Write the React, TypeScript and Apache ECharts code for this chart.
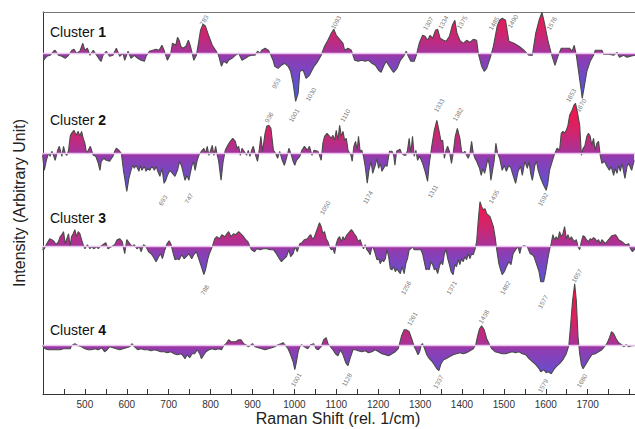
import React, { useEffect, useRef } from 'react';
import * as echarts from 'echarts';

const FONT = '"Liberation Sans", Arial, Helvetica, sans-serif';

// ---------- data (intensity in arbitrary units, relative to each cluster baseline) ----------
const CLUSTER_NAMES = ['1', '2', '3', '4'];
const OFFSETS = [340.7, 240.7, 147.3, 48.3];

const WN1 = [401,409,417,425,429,437,445,453,461,469,474,480,488,495,500,506,512,520,528,536,539,543,551,559,567,575,583,591,595,603,610,618,626,634,642,646,654,662,670,677,684,689,697,705,709,717,721,725,729,734,741,747,752,760,766,771,776,782,788,796,804,812,819,826,831,839,843,851,859,867,875,883,890,898,906,912,918,922,930,938,944,950,953,961,969,977,985,991,997,1003,1009,1013,1021,1028,1036,1047,1056,1064,1072,1080,1088,1094,1100,1108,1116,1120,1128,1136,1144,1152,1161,1169,1177,1185,1193,1201,1207,1213,1219,1225,1233,1237,1245,1253,1262,1267,1272,1278,1286,1291,1298,1306,1312,1318,1324,1330,1337,1342,1348,1356,1362,1370,1377,1383,1388,1395,1403,1411,1419,1427,1435,1439,1447,1453,1459,1467,1475,1484,1490,1496,1504,1512,1524,1536,1548,1560,1568,1576,1584,1591,1597,1605,1613,1619,1622,1629,1637,1649,1657,1663,1668,1673,1679,1684,1687,1692,1698,1706,1714,1718,1726,1734,1738,1750,1762,1770,1776,1786,1794,1802,1813];
const IN1 = [-7,-3,-2,2,3,-2,-3,-5,-2,3,4,0,2,10,3,5,-2,3,-2,-7,-8,-2,2,-3,-2,5,-3,0,-7,2,-5,-2,-5,-7,-8,-3,2,3,4,3,8,3,-7,0,10,8,16,13,7,5,7,13,7,-7,-2,10,23,29,27,17,8,3,-2,-13,-8,-10,-7,-5,-2,0,-7,-5,-3,-2,-2,2,0,3,5,3,-2,-8,-13,-15,-12,-10,-13,-18,-30,-48,-40,-18,-17,-25,-22,-13,-8,-2,7,13,20,24,18,14,10,3,5,3,-7,-8,-7,-8,-7,-10,-12,-17,-19,-13,-8,-12,-17,-19,-15,-7,-2,2,-3,-8,-8,-2,10,18,17,13,18,15,23,24,15,13,12,17,28,33,20,13,10,13,11,14,13,0,-13,-18,-15,-5,7,27,33,35,33,12,10,7,3,-2,-2,20,33,41,30,13,0,-8,-12,-3,5,5,5,2,8,-2,-20,-35,-45,-33,-18,-8,-2,3,3,3,-1,-1,-2,1,-4,-2,-4,-3,-2];

const WN2 = [399,403,408,413,417,421,425,429,435,439,445,449,453,457,461,465,468,474,479,484,488,492,496,500,504,508,513,520,526,532,536,539,545,551,559,567,571,575,581,587,592,597,600,605,610,614,618,622,629,632,636,642,646,650,655,660,666,670,674,679,684,689,693,697,703,709,715,721,726,731,735,739,744,748,755,759,763,768,772,778,784,788,792,796,800,804,808,812,816,819,825,830,835,841,847,853,859,863,867,871,875,883,886,890,894,898,902,906,912,916,920,924,930,934,939,944,950,955,960,965,971,976,981,987,993,997,1001,1005,1013,1018,1024,1031,1036,1042,1047,1056,1060,1064,1068,1072,1078,1084,1088,1092,1096,1100,1104,1108,1112,1116,1120,1124,1128,1135,1138,1142,1146,1150,1153,1157,1161,1165,1169,1174,1178,1183,1187,1193,1197,1201,1205,1209,1213,1217,1221,1227,1233,1237,1240,1244,1248,1252,1256,1262,1266,1270,1274,1278,1282,1286,1290,1294,1299,1306,1312,1318,1322,1329,1334,1340,1345,1350,1354,1358,1362,1366,1370,1375,1379,1384,1389,1395,1399,1403,1407,1411,1415,1419,1423,1427,1431,1435,1442,1446,1450,1454,1458,1462,1466,1469,1473,1477,1481,1485,1490,1496,1501,1506,1512,1517,1522,1528,1534,1540,1544,1550,1556,1560,1564,1568,1574,1578,1582,1588,1595,1601,1605,1609,1614,1619,1622,1627,1633,1637,1641,1645,1649,1653,1657,1663,1667,1671,1676,1681,1685,1689,1693,1698,1702,1706,1710,1714,1718,1722,1726,1730,1734,1740,1746,1752,1756,1762,1766,1770,1774,1778,1782,1789,1794,1798,1805,1811];
const IN2 = [-2,-17,-7,0,-3,2,-2,-7,3,7,-3,7,0,-2,3,17,20,23,18,22,17,22,15,10,0,3,7,-2,-3,-10,-17,-8,-5,-7,-8,-3,2,5,3,0,-17,-30,-38,-25,-17,-12,-15,-12,-18,-12,-17,-13,-18,-15,-17,-13,-17,-13,-18,-23,-15,-30,-27,-22,-17,-20,-23,-17,-8,-13,-20,-27,-22,-27,-13,-8,-17,-7,-2,2,5,0,7,-2,3,8,-2,7,-2,-7,-27,-8,3,8,12,15,12,5,7,-2,5,0,-2,3,-3,3,7,0,-8,3,17,2,20,27,28,25,3,0,-5,2,-7,-12,-5,5,-2,-8,-12,-7,-3,3,7,3,7,-2,3,2,-2,-7,10,17,20,17,15,18,13,23,13,28,17,22,13,15,3,-2,-8,7,12,3,17,2,3,-3,-13,-30,-17,-8,-20,-12,-5,-15,-10,-18,-15,-12,-13,2,2,-2,-12,2,3,4,0,-2,-2,3,15,0,17,-3,3,-7,-3,-10,-18,-28,-10,10,23,33,23,12,13,-5,3,7,2,-10,0,17,25,15,2,0,2,-2,-5,0,12,0,-5,-8,-15,-22,-15,-20,-13,-5,-13,-27,-17,-7,10,0,-5,-17,-12,-18,-12,-15,-22,-30,-18,-13,-22,-8,-15,-8,-20,-27,-12,-8,-17,-25,-32,-37,-30,-17,-10,-3,0,5,3,20,22,20,23,28,38,43,48,50,40,28,-2,5,7,17,20,17,8,15,3,10,12,-2,-10,-8,-13,-17,-13,-22,-15,-20,-12,-18,-10,-25,-13,-10,-17,-7];

const WN3 = [399,403,409,416,421,427,431,437,441,445,449,453,457,461,465,468,472,476,480,484,488,492,496,500,506,512,516,521,528,532,536,543,550,555,563,571,577,583,589,595,600,607,613,618,624,630,634,640,646,652,658,663,670,676,681,685,691,696,701,705,711,715,721,725,731,737,742,748,755,760,766,770,774,778,784,788,793,797,804,810,815,821,827,834,839,843,849,855,860,867,872,879,884,889,894,898,905,910,918,926,934,942,950,957,964,969,976,981,987,991,997,1002,1007,1013,1018,1024,1031,1036,1039,1043,1047,1054,1060,1064,1068,1072,1076,1080,1084,1088,1092,1096,1100,1104,1108,1112,1116,1120,1124,1128,1132,1136,1140,1144,1148,1152,1157,1161,1165,1169,1173,1177,1181,1185,1189,1193,1197,1201,1205,1209,1213,1217,1221,1225,1229,1233,1237,1241,1245,1249,1253,1257,1262,1266,1270,1274,1278,1282,1286,1294,1302,1306,1310,1314,1318,1322,1326,1330,1334,1338,1342,1346,1350,1354,1358,1362,1366,1370,1374,1379,1383,1387,1391,1395,1399,1403,1407,1411,1415,1419,1423,1427,1431,1435,1439,1443,1447,1451,1455,1459,1467,1475,1479,1483,1488,1492,1496,1501,1506,1512,1517,1522,1528,1534,1538,1542,1548,1556,1563,1568,1572,1576,1580,1584,1588,1595,1599,1605,1609,1613,1617,1621,1625,1629,1633,1637,1641,1645,1649,1653,1657,1661,1665,1669,1673,1677,1681,1685,1689,1693,1697,1702,1706,1710,1714,1718,1722,1726,1730,1734,1738,1742,1750,1758,1766,1770,1774,1782,1790,1798,1802,1807,1813];
const IN3 = [-3,-2,3,8,7,5,2,5,10,12,15,3,8,13,0,10,13,17,10,15,13,7,2,-2,2,-2,0,-2,0,-2,0,2,4,-2,0,2,7,8,5,-7,7,3,0,2,-2,0,-5,2,0,-5,-7,-10,-15,-10,-7,-12,-3,3,6,3,-7,-13,-12,-13,-8,-12,-10,-7,-12,-8,-5,-10,-15,-20,-28,-23,-13,-7,0,8,10,8,12,10,13,15,10,13,12,15,13,10,7,5,0,-3,-5,-2,-3,-2,-2,-3,-3,-7,-12,-15,-12,-10,-3,-10,-7,0,-5,3,4,7,8,11,12,8,9,17,24,20,13,15,8,5,0,-3,-2,-7,3,8,10,5,10,7,11,13,15,17,15,12,10,5,7,2,-2,2,-3,-5,-8,0,-2,-7,-13,-12,-17,-13,-15,-12,-3,-10,-22,-23,-20,-25,-22,-25,-27,-20,-27,-17,-12,-3,-2,0,-3,-3,-3,-7,-15,-23,-22,-23,-15,-18,-23,-22,-27,-20,-15,-18,-7,-3,-12,-18,-25,-28,-18,-20,-13,-18,-12,-15,-10,-13,-7,-12,-7,-8,-3,5,27,45,40,37,38,33,30,20,10,-3,-17,-23,-28,-25,-20,-15,-18,-7,-3,0,-7,0,1,0,-7,-8,-10,-15,-20,-25,-35,-35,-27,-12,-3,3,12,7,10,7,15,10,13,20,8,12,7,10,7,5,7,0,-3,5,11,10,7,5,8,7,9,8,5,7,3,7,5,3,7,11,12,10,7,5,2,3,-2,-5,-2];

const WN4 = [399,405,413,425,433,441,449,457,465,468,476,484,492,500,508,516,524,532,540,547,553,559,567,575,583,591,599,607,613,618,626,634,642,650,658,666,674,681,689,697,705,713,721,729,734,739,744,750,756,762,768,774,778,784,789,796,804,811,819,826,831,837,843,849,855,860,867,872,879,884,890,897,900,906,914,922,930,938,946,953,961,968,973,979,985,991,997,1001,1005,1009,1013,1017,1024,1032,1039,1046,1052,1057,1064,1070,1076,1080,1086,1092,1098,1104,1110,1116,1120,1124,1128,1132,1136,1140,1146,1152,1161,1169,1177,1185,1193,1201,1209,1217,1225,1233,1241,1248,1251,1256,1262,1267,1274,1280,1286,1290,1295,1299,1303,1306,1311,1316,1322,1329,1334,1340,1345,1350,1356,1362,1370,1379,1387,1395,1403,1411,1419,1427,1433,1437,1442,1447,1453,1459,1466,1471,1479,1488,1496,1504,1512,1520,1528,1536,1544,1552,1560,1568,1576,1584,1588,1595,1601,1606,1613,1619,1625,1633,1641,1649,1655,1659,1664,1669,1673,1677,1681,1685,1689,1695,1702,1710,1718,1726,1734,1740,1746,1752,1757,1762,1768,1774,1781,1786,1792,1798,1805,1811];
const IN4 = [0,-3,-4,-4,-4,-4,-3,-3,-3,0,2,0,-1,-3,-4,-4,-3,-4,-2,-6,-4,-1,-2,-3,-4,-3,-2,-1,2,-1,-4,-3,-4,-4,-5,-4,-5,-6,-6,-7,-6,-8,-9,-8,-10,-13,-9,-12,-8,-8,-4,-8,-13,-9,-6,-4,-3,-4,-3,-4,0,2,6,4,4,4,6,6,2,1,-1,1,2,-1,-2,-3,-4,-3,-2,-1,1,2,3,0,-3,-9,-16,-24,-16,-6,-1,1,-1,-3,1,2,-3,-4,-1,6,8,2,-1,-4,-8,-10,-4,-9,-14,-18,-20,-14,-9,-4,-4,-5,-6,-5,-7,-6,-4,-6,-8,-9,-10,-8,-6,-3,2,10,16,16,14,7,-1,-4,-9,-6,1,2,-3,-9,-13,-16,-19,-23,-25,-18,-14,-13,-11,-9,-8,-7,-8,-7,-5,-3,1,9,17,20,16,7,1,-3,-6,-7,-8,-8,-7,-6,-7,-6,-8,-9,-13,-16,-19,-23,-26,-24,-27,-26,-28,-24,-21,-18,-14,-8,0,19,45,62,45,9,-8,-19,-23,-19,-14,-9,-8,-6,-4,-1,2,8,14,12,7,3,1,-1,1,-1,0,0];

const WAVENUMBERS = [WN1, WN2, WN3, WN4];
const INTENSITIES = [IN1, IN2, IN3, IN4];

// peak annotations: [text, wavenumber, level relative to baseline]
const PEAKS1: [string, number, number][] = [['783',784,33],['953',956,-30],['1030',1039,-41],['1093',1099,31],['1307',1319,30],['1334',1355,31],['1375',1400,31],['1485',1476,30],['1490',1521,32],['1576',1614,30]];
const PEAKS2: [string, number, number][] = [['936',939,36],['1001',999,38],['1110',1121,38],['1333',1345,48],['1382',1390,39],['1653',1660,58],['1670',1684,48],['693',686,-47],['747',748,-45],['1174',1175,-44],['1311',1330,-38],['1592',1593,-46]];
const PEAKS3: [string, number, number][] = [['1050',1073,39],['1435',1476,50],['786',786,-43],['1256',1266,-41],['1371',1375,-41],['1482',1503,-41],['1577',1593,-55]];
const PEAKS4: [string, number, number][] = [['1657',1674,70],['1261',1281,27],['1438',1452,29],['1001',1004,-34],['1128',1125,-34],['1337',1343,-36],['1579',1593,-40],['1680',1686,-35]];
const PEAKS = [PEAKS1, PEAKS2, PEAKS3, PEAKS4];

const TICK_VALUES = [450,500,550,600,650,700,750,800,850,900,950,1000,1050,1100,1150,1200,1250,1300,1350,1400,1450,1500,1550,1600,1650,1700,1750,1800];
const LABEL_VALUES = [500,600,700,800,900,1000,1100,1200,1300,1400,1500,1600,1700];

const X_MIN = 400;
const X_MAX = 1813;
const Y_MAX = 382;

function gradientFor(basePx: number | null) {
  if (basePx == null) return '#9b3aa6';
  return new echarts.graphic.LinearGradient(0, basePx - 44, 0, basePx + 48, [
    { offset: 0, color: '#f3164a' },
    { offset: 0.25, color: '#d2246c' },
    { offset: 0.47, color: '#a6339a' },
    { offset: 0.53, color: '#8e3db2' },
    { offset: 0.76, color: '#6a4dcc' },
    { offset: 1, color: '#3a5ee8' },
  ], true);
}

function buildOption(bases: number[] | null) {
  const lineSeries = WAVENUMBERS.map((wn, ci) => ({
    type: 'line',
    name: 'Cluster ' + CLUSTER_NAMES[ci],
    data: wn.map((w, i) => [w, OFFSETS[ci] + INTENSITIES[ci][i]]),
    showSymbol: false,
    symbol: 'none',
    smooth: false,
    z: 3,
    lineStyle: { color: '#4a4a4a', width: 1.1 },
    areaStyle: { origin: OFFSETS[ci], color: gradientFor(bases ? bases[ci] : null), opacity: 1 },
    markLine: {
      silent: true,
      symbol: 'none',
      label: { show: false },
      lineStyle: { color: '#e9c3f2', width: 1.4, type: 'solid' },
      data: [{ yAxis: OFFSETS[ci] }],
    },
  }));

  const labelData: any[] = [];
  PEAKS.forEach((list, ci) => {
    list.forEach(([t, w, lvl]) => {
      labelData.push({ name: t, value: [w, OFFSETS[ci] + lvl] });
    });
  });

  const labelSeries = {
    type: 'scatter',
    data: labelData,
    symbolSize: 1,
    z: 5,
    silent: true,
    itemStyle: { color: 'rgba(0,0,0,0)' },
    label: {
      show: true,
      position: 'inside',
      rotate: 60,
      formatter: (p: any) => p.name,
      fontSize: 6.5,
      color: '#555',
      fontFamily: FONT,
    },
  };

  const titleYs = [32, 120, 217.5, 330];
  const clusterTitles = CLUSTER_NAMES.map((n, i) => ({
    type: 'text',
    x: 50,
    y: titleYs[i],
    z: 10,
    style: {
      text: '{a|Cluster }{b|' + n + '}',
      verticalAlign: 'middle',
      align: 'left',
      rich: {
        a: { fontSize: 14, fontFamily: FONT, fill: '#111', fontWeight: 'normal' },
        b: { fontSize: 14, fontFamily: FONT, fill: '#111', fontWeight: 'bold' },
      },
    },
  }));

  return {
    animation: false,
    backgroundColor: '#ffffff',
    grid: { left: 43, right: 0, top: 12, bottom: 35, containLabel: false },
    xAxis: [
      {
        type: 'value',
        min: X_MIN,
        max: X_MAX,
        position: 'bottom',
        axisLine: { show: true, lineStyle: { color: '#333', width: 1 } },
        axisTick: { show: true, inside: true, length: 5, customValues: TICK_VALUES, lineStyle: { color: '#333', width: 1 } },
        axisLabel: {
          show: true,
          customValues: LABEL_VALUES,
          formatter: (v: number) => String(v),
          fontSize: 10,
          color: '#333',
          margin: 5,
          fontFamily: FONT,
        },
        splitLine: { show: false },
      },
      {
        type: 'value',
        min: X_MIN,
        max: X_MAX,
        position: 'top',
        axisLine: { show: true, lineStyle: { color: '#777', width: 1 } },
        axisTick: { show: false },
        axisLabel: { show: false },
        splitLine: { show: false },
      },
    ],
    yAxis: {
      type: 'value',
      min: 0,
      max: Y_MAX,
      axisLine: { show: true, lineStyle: { color: '#333', width: 1 } },
      axisTick: { show: false },
      axisLabel: { show: false },
      splitLine: { show: false },
    },
    series: [...lineSeries, labelSeries],
    graphic: [
      ...clusterTitles,
      {
        type: 'text',
        x: 19,
        y: 203,
        rotation: Math.PI / 2,
        style: {
          text: 'Intensity (Arbitrary Unit)',
          align: 'center',
          verticalAlign: 'middle',
          fontSize: 16,
          fontFamily: FONT,
          fill: '#222',
        },
      },
      {
        type: 'text',
        x: 338,
        y: 418,
        style: {
          text: 'Raman Shift (rel. 1/cm)',
          align: 'center',
          verticalAlign: 'middle',
          fontSize: 16,
          fontFamily: FONT,
          fill: '#222',
        },
      },
    ],
  };
}

export default function App() {
  const ref = useRef<HTMLDivElement>(null);
  useEffect(() => {
    if (!ref.current) return;
    const chart = echarts.init(ref.current, null, { renderer: 'svg' });
    chart.setOption(buildOption(null) as any);
    const bases = OFFSETS.map((o) => {
      const p = chart.convertToPixel({ gridIndex: 0 } as any, [1000, o]) as any;
      return Array.isArray(p) ? p[1] : 394 - o;
    });
    chart.setOption(buildOption(bases) as any, true);
    return () => chart.dispose();
  }, []);
  return <div ref={ref} style={{ position: 'fixed', left: 0, top: 0, width: 635, height: 429 }} />;
}
